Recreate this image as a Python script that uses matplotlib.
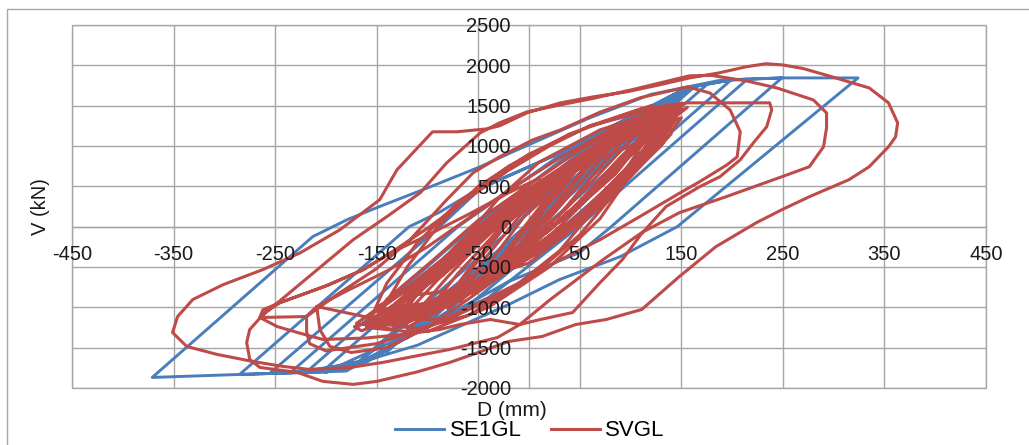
import matplotlib
matplotlib.use('Agg')
import matplotlib.pyplot as plt
from matplotlib.patches import Rectangle

plt.rcParams['font.family'] = ['Liberation Sans', 'DejaVu Sans']
plt.rcParams['axes.unicode_minus'] = False

# axis ticks
x_ticks = [-450, -350, -250, -150, -50, 50, 150, 250, 350, 450]
y_ticks = [-2000, -1500, -1000, -500, 0, 500, 1000, 1500, 2000, 2500]

# SE1GL hysteresis, D (mm), V (kN)
se1gl = [
    (0, 0), (20, 300), (-20, -280), (40, 560), (-40, -540), (60, 800), (-60, -780),
    (80, 1050), (-80, -1000), (100, 1250), (-100, -1200), (120, 1450), (-120, -1380),
    (140, 1620), (-140, -1550),
    (151, 1720), (-4, 0), (-150, -1620), (-2, 0), (156, 1725), (0, 0), (-170, -1700),
    (-15, 0), (60, 950), (156, 1725), (160, 1735), (2, 0), (-90, -1050), (-150, -1620), (-203, -1790),
    (-40, 0), (50, 920), (156, 1725), (164, 1745), (5, 0), (-90, -1080), (-155, -1640), (-219, -1800),
    (-55, 0), (40, 900), (156, 1725), (175, 1760), (15, 0), (-80, -1050), (-160, -1680), (-235, -1810),
    (-70, 0), (30, 880), (156, 1725), (190, 1800), (199, 1819), (34, 0), (-60, -980), (-180, -1770), (-255, -1815),
    (-88, 0), (-48, 470), (31, 916), (156, 1725), (199, 1819), (215, 1828), (49, 0), (-40, -880),
    (-200, -1800), (-285, -1832),
    (-118, 0), (-88, 180), (-48, 480), (31, 916), (156, 1725), (199, 1819), (249, 1844), (81, 0),
    (50, -320), (-20, -680), (-180, -1790), (-285, -1832), (-371, -1869),
    (-213, -124), (-179, 87), (-150, 235), (-97, 495), (-48, 743), (-16, 928), (60, 1350),
    (120, 1640), (190, 1819), (249, 1844), (324, 1844),
    (146, 0), (90, -371), (30, -656), (-20, -965), (-110, -1470), (-200, -1807),
]

# SVGL hysteresis: small cycles in the middle
svgl_center = [
    (0, 0), (15, 300), (30, 520), (12, 150), (-10, -250), (-28, -480), (-12, -120), (8, 200),
    (45, 780), (20, 380), (-5, -60), (-42, -680), (-20, -300), (10, 180),
    (62, 950), (30, 420), (-5, -20), (-55, -820), (-35, -380), (-5, 120), (30, 520),
    (76, 1080), (40, 500), (5, -30), (-30, -480), (-68, -930), (-45, -420), (-10, 120), (30, 580),
    (88, 1180), (50, 620), (15, 60), (-25, -420), (-80, -1020), (-55, -500), (-20, 60), (20, 520), (60, 940),
    (100, 1280), (60, 680), (20, 100), (-30, -450), (-92, -1080), (-60, -540), (-25, 0), (15, 460), (60, 950),
    (112, 1360), (70, 740), (30, 150), (-20, -400), (-105, -1130), (-70, -580), (-30, -40), (10, 420), (60, 930),
    (125, 1420), (80, 800), (35, 200), (-15, -330), (-60, -800), (-118, -1170), (-80, -620), (-40, -90),
    (5, 380), (55, 880),
    (138, 1460), (90, 860), (45, 250), (-5, -280), (-55, -760), (-130, -1200), (-90, -660), (-45, -140),
    (0, 340), (55, 840),
    (148, 1490), (100, 920), (50, 300), (0, -240), (-60, -760), (-142, -1220), (-100, -720), (-50, -200),
    (-5, 300), (50, 800),
    (156, 1480), (120, 1120), (60, 420), (10, -150), (-50, -700), (-155, -1240), (-110, -780), (-60, -260),
    (-10, 250), (60, 900),
    (130, 1420), (80, 650), (20, -50), (-40, -600), (-100, -1000), (-150, -1150), (-140, -1180),
    (-165, -1290), (-172, -1240), (-150, -1150),
    (-110, -1000), (-60, -700), (0, -450), (50, 50), (100, 700), (120, 1100), (80, 900), (30, 600),
    (-20, 200), (-70, -400), (-120, -900), (-140, -1150), (-90, -950), (-30, -500), (30, -100),
    (80, 400), (130, 1000), (150, 1350), (110, 1200), (50, 800), (0, 450),
    (-50, 0), (-100, -600), (-150, -1050), (-120, -1100), (-60, -800), (0, -350), (60, 200),
    (110, 800), (140, 1250), (100, 1150), (40, 700), (-10, 300),
    (-60, -200), (-110, -800), (-125, -1050), (-80, -850), (-20, -450), (40, 50), (90, 600),
    (130, 1150), (145, 1400), (110, 1250), (60, 850), (10, 450), (-40, 0),
    (-90, -550), (-135, -1000), (-100, -950), (-40, -600), (20, -150), (70, 350), (115, 950),
    (128, 1300), (90, 1100), (30, 650), (-20, 250), (-70, -250), (-115, -850),
    (-80, -800), (-25, -380), (35, 100), (85, 650), (120, 1200), (80, 1000), (20, 550),
    (-30, 100), (-80, -450), (-130, -1100), (-95, -1050), (-45, -700), (10, -250), (60, 250),
    (105, 850), (150, 1450), (120, 1380), (70, 950), (15, 420), (-35, -50), (-85, -600),
    (-160, -1180), (-120, -1250), (-70, -900), (-15, -450), (45, 0), (95, 550), (140, 1150),
    (135, 1480), (95, 1250), (40, 800), (-15, 350), (-65, -150), (-100, -600),
    (-145, -1100), (-110, -1150), (-50, -780), (5, -350), (60, 150), (100, 650), (135, 1200),
    (150, 1500), (115, 1330), (75, 1050), (25, 650), (-25, 200), (-75, -300), (-120, -750),
    (-170, -1200), (-135, -1270), (-85, -1000), (-30, -600), (25, -200), (75, 300), (120, 900),
    (145, 1330), (105, 1180), (55, 780), (0, 350), (-55, -150), (-105, -650), (-150, -1000),
    (-115, -1080), (-65, -800), (-10, -380), (45, 100), (95, 700), (125, 1280), (100, 1300),
    (50, 950), (0, 520), (-50, 80), (-95, -420), (-140, -900),
]

# SVGL hysteresis: medium and large cycles
svgl_outer = [
    (-150, -1150), (-120, -500), (-90, 0), (-50, 500), (0, 900), (60, 1250), (130, 1480),
    (140, 1420), (110, 900), (70, 300), (30, -300), (-20, -800), (-80, -1150), (-150, -1150),
    (-160, -1250), (-140, -700), (-110, -200), (-70, 300), (-20, 750), (40, 1150), (120, 1500),
    (135, 1450), (120, 1100), (90, 500), (50, -100), (0, -650), (-60, -1100), (-120, -1300),
    (-160, -1250),
    (-130, -1200), (-100, -650), (-60, -100), (-30, 350), (10, 800), (70, 1200), (150, 1530),
    (130, 1300), (100, 650), (70, 100), (20, -500), (-40, -1000), (-100, -1300), (-130, -1200),
    (-209, -990), (-180, -800), (-140, -550), (-100, -250), (-60, 100), (-20, 450), (30, 850),
    (80, 1200), (120, 1420), (145, 1490), (150, 1460), (135, 1300), (105, 950), (70, 500), (30, 0),
    (-10, -450), (-60, -900), (-100, -1250), (-140, -1500), (-175, -1560), (-196, -1485),
    (-206, -1275), (-209, -990),
    (-219, -1114), (-190, -850), (-150, -520), (-117, -161), (-81, 334), (-55, 668), (-29, 866),
    (4, 1077), (31, 1200), (70, 1420), (110, 1600), (156, 1733), (178, 1658), (198, 1448),
    (208, 1176), (205, 866), (195, 767), (168, 557), (149, 421), (109, 124), (70, -161), (31, -408),
    (-10, -700), (-50, -950), (-100, -1250), (-150, -1450), (-200, -1540), (-216, -1450),
    (-219, -1300), (-219, -1114),
    (-265, -1126), (-262, -1030), (-245, -941), (-199, -730), (-163, -532), (-137, -330), (-100, -20),
    (-60, 350), (-20, 700), (20, 1000), (60, 1250), (110, 1460), (156, 1535), (195, 1535), (237, 1535),
    (239, 1448), (234, 1238), (221, 1040), (208, 829), (188, 619), (168, 495), (135, 250), (110, -100),
    (92, -408), (70, -693), (43, -1064), (11, -1151), (-9, -1213), (-38, -1151), (-68, -1213),
    (-88, -1275), (-120, -1330), (-160, -1380), (-203, -1398), (-228, -1312), (-248, -1238), (-265, -1126),
    (-173, -161), (-140, 124), (-107, 421), (-81, 792), (-48, 1163), (-29, 1287), (-2, 1423), (31, 1510),
    (63, 1590), (102, 1700), (158, 1870), (180, 1875), (214, 1807), (244, 1720), (280, 1571),
    (293, 1411), (293, 1225), (290, 990), (276, 743), (249, 619), (194, 371), (148, 173), (111, -74),
    (73, -408), (47, -656), (21, -903), (-9, -1213), (-31, -1374), (-55, -1450), (-78, -1522),
    (-144, -1683), (-176, -1745), (-216, -1770), (-242, -1733), (-272, -1671), (-307, -1584),
    (-337, -1485), (-351, -1312),
    (-346, -1114), (-331, -903), (-301, -718), (-262, -532), (-225, -322), (-186, -37), (-147, 334),
    (-130, 705), (-95, 1176), (-71, 1176), (-41, 1213), (-29, 1250), (-2, 1411), (31, 1535),
    (63, 1609), (96, 1671), (128, 1757), (158, 1844), (187, 1906), (213, 1980), (233, 2020),
    (250, 2005), (270, 1960), (295, 1870), (335, 1720), (354, 1535), (363, 1287), (361, 1114),
    (354, 990), (335, 743), (315, 582), (276, 371), (249, 210), (224, 50), (184, -248), (148, -619),
    (111, -1027), (76, -1151), (46, -1213), (13, -1361), (-20, -1423), (-50, -1560), (-78, -1683),
    (-110, -1800), (-150, -1918), (-173, -1955), (-203, -1918), (-228, -1807), (-265, -1745),
    (-275, -1646), (-278, -1436), (-275, -1275), (-260, -1064), (-245, -941), (-199, -730),
    (-163, -532), (-137, -330), (-107, -150), (-60, 150), (-20, 420), (10, 600),
]

blue = '#4A7EBB'
red = '#BE4B48'
gray = '#A6A6A6'

bx, by = zip(*se1gl)
svgl = svgl_center + svgl_outer
rx, ry = zip(*svgl)

fig = plt.figure(figsize=(10.29, 4.45), dpi=100)
ax = fig.add_axes([72 / 1029, 1 - 388 / 445, 914 / 1029, 363 / 445])

ax.plot(bx, by, color=blue, lw=2.1, solid_joinstyle='round', label='SE1GL', zorder=3)
ax.plot(rx, ry, color=red, lw=2.2, solid_joinstyle='round', label='SVGL', zorder=4)

ax.set_xlim(-450, 450)
ax.set_ylim(-2000, 2500)
ax.set_xticks(x_ticks)
ax.set_yticks(y_ticks)

# gridlines under the series, tick labels above them (as in Excel)
for xv in x_ticks:
    ax.axvline(xv, color=gray, lw=1.0, zorder=1)
for yv in y_ticks:
    ax.axhline(yv, color=gray, lw=1.0, zorder=1)
ax.xaxis.set_zorder(5)
ax.yaxis.set_zorder(5)

ax.spines['top'].set_visible(False)
ax.spines['right'].set_visible(False)
ax.spines['left'].set_position(('data', 0))
ax.spines['bottom'].set_position(('data', 0))
for s in ['left', 'bottom']:
    ax.spines[s].set_color(gray)
    ax.spines[s].set_linewidth(1.0)
    ax.spines[s].set_zorder(1)
ax.add_patch(Rectangle((0, 0), 1, 1, transform=ax.transAxes, fill=False,
                       ec=gray, lw=1.0, clip_on=False, zorder=1))
ax.tick_params(length=0, pad=13, labelsize=14.5, labelcolor='#1A1A1A')

ax.set_xlabel('D (mm)', fontsize=15, color='#1A1A1A')
ax.xaxis.set_label_coords(0.481, -0.036)
ax.set_ylabel('V (kN)', fontsize=14.5, color='#1A1A1A')
ax.yaxis.set_label_coords(-0.024, 0.5)

fig.legend(loc='center', bbox_to_anchor=(530 / 1029, 1 - 431 / 445), ncol=2, frameon=False,
           fontsize=16, handlelength=2.2, handletextpad=0.25, columnspacing=1.3,
           borderpad=0, borderaxespad=0)

# outer chart border (cut by the picture edge)
fig.add_artist(Rectangle((7 / 1029, -0.1), 1.2, 1.1 - 9.5 / 445, transform=fig.transFigure,
                         fill=False, ec=gray, lw=1.0))

fig.savefig('out.png', dpi=100)
